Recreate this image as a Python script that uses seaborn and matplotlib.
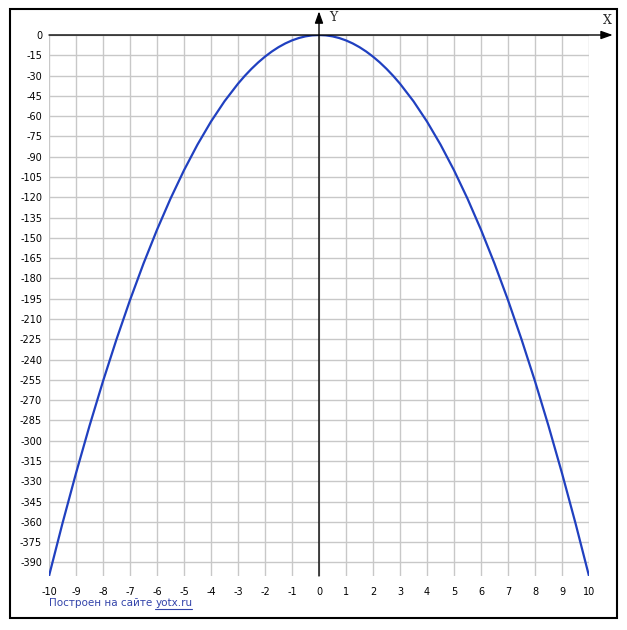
import numpy as np
import pandas as pd
import matplotlib
matplotlib.use("Agg")
import matplotlib.pyplot as plt
import seaborn as sns
from matplotlib.patches import Rectangle

# curve points (finer step near the top)
x_vals = [-10, -9.5, -9, -8.5, -8, -7.5, -7, -6.5, -6, -5.5, -5, -4.5, -4, -3.5,
          -3, -2.75, -2.5, -2.25, -2, -1.75, -1.5, -1.25, -1, -0.75, -0.5, -0.25,
          0, 0.25, 0.5, 0.75, 1, 1.25, 1.5, 1.75, 2, 2.25, 2.5, 2.75, 3,
          3.5, 4, 4.5, 5, 5.5, 6, 6.5, 7, 7.5, 8, 8.5, 9, 9.5, 10]
y_vals = [-400, -361, -324, -289, -256, -225, -196, -169, -144, -121, -100, -81, -64, -49,
          -36, -30.25, -25, -20.25, -16, -12.25, -9, -6.25, -4, -2.25, -1, -0.25,
          0, -0.25, -1, -2.25, -4, -6.25, -9, -12.25, -16, -20.25, -25, -30.25, -36,
          -49, -64, -81, -100, -121, -144, -169, -196, -225, -256, -289, -324, -361, -400]
x_ticks = list(range(-10, 11))
y_ticks = list(range(0, -391, -15))

df = pd.DataFrame({"x": x_vals, "y": y_vals})

sns.set_style("white")
plt.rcParams['font.family'] = ['DejaVu Sans']

fig = plt.figure(figsize=(6.27, 6.30), dpi=100)
W, H = 627, 630
ax = fig.add_axes([49 / W, 1 - 576 / H, 540 / W, 541 / H])

# outer frame
fig.patches.append(Rectangle((10 / W, 1 - 618 / H), 607 / W, 609 / H, transform=fig.transFigure,
                             fill=False, edgecolor="black", linewidth=1.5))

ax.set_xlim(-10, 10)
ax.set_ylim(-400, 0)
for s in ax.spines.values():
    s.set_visible(False)

# grid
for xv in x_ticks:
    ax.axvline(xv, color="#c8c8c8", linewidth=1, zorder=0)
for yv in y_ticks:
    ax.axhline(yv, color="#c8c8c8", linewidth=1, zorder=0)

sns.lineplot(data=df, x="x", y="y", ax=ax, color="#2040c0", linewidth=1.6, zorder=3)

# axes arrows
ax.annotate("", xy=(10.88, 0), xytext=(-10, 0), annotation_clip=False,
            arrowprops=dict(arrowstyle="-|>,head_length=0.7,head_width=0.25", color="black", lw=1, shrinkA=0, shrinkB=0))
ax.annotate("", xy=(0, 17.5), xytext=(0, -400), annotation_clip=False,
            arrowprops=dict(arrowstyle="-|>,head_length=0.7,head_width=0.25", color="black", lw=1, shrinkA=0, shrinkB=0))
ax.text(10.67, 11, "X", fontsize=9, family="DejaVu Serif", ha="center", va="center", clip_on=False)
ax.text(0.52, 13.3, "Y", fontsize=9, family="DejaVu Serif", ha="center", va="center", clip_on=False)

ax.set_xticks(x_ticks)
ax.set_xticklabels([str(v) for v in x_ticks])
ax.set_yticks(y_ticks)
ax.set_yticklabels([str(v) for v in y_ticks])
ax.tick_params(axis="both", length=0, labelsize=7, labelcolor="black")
ax.tick_params(axis="x", pad=8)
ax.tick_params(axis="y", pad=5)
ax.set_xlabel("")
ax.set_ylabel("")

# footer with underlined link placed after the first part
t1 = fig.text(49 / W, 1 - 603 / H, "Построен на сайте", fontsize=7.5, color="#3344aa", va="center", ha="left")
fig.canvas.draw()
bb = t1.get_window_extent()
x2 = bb.x1 + 3
t2 = fig.text(x2 / W, 1 - 603 / H, "yotx.ru", fontsize=7.5, color="#3344aa", va="center", ha="left")
fig.canvas.draw()
bb2 = t2.get_window_extent()
fig.add_artist(plt.Line2D([bb2.x0 / W, bb2.x1 / W], [1 - 609 / H, 1 - 609 / H], color="#3344aa", linewidth=0.8))

fig.savefig("out.png", dpi=100)
